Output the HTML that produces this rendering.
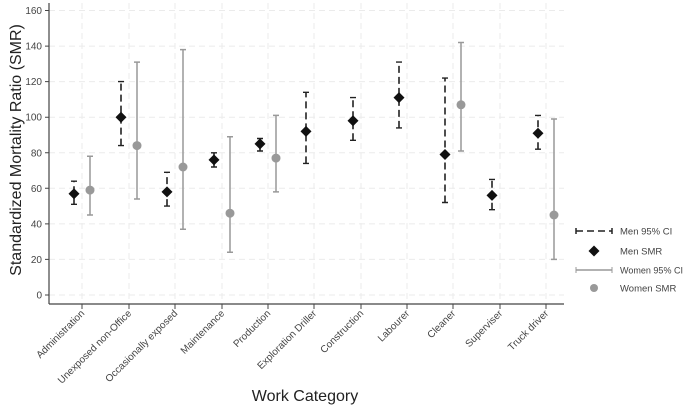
<!DOCTYPE html>
<html><head><meta charset="utf-8"><style>body{margin:0;background:#fff}svg{display:block}</style></head><body>
<svg width="685" height="408" xmlns="http://www.w3.org/2000/svg" font-family="Liberation Sans, sans-serif">
<rect width="685" height="408" fill="#fff"/>
<g stroke="#ebebeb" stroke-dasharray="6,4" stroke-width="1">
<line x1="49" x2="564" y1="295" y2="295"/><line x1="49" x2="564" y1="259.4" y2="259.4"/><line x1="49" x2="564" y1="223.9" y2="223.9"/><line x1="49" x2="564" y1="188.3" y2="188.3"/><line x1="49" x2="564" y1="152.8" y2="152.8"/><line x1="49" x2="564" y1="117.2" y2="117.2"/><line x1="49" x2="564" y1="81.6" y2="81.6"/><line x1="49" x2="564" y1="46.1" y2="46.1"/><line x1="49" x2="564" y1="10.5" y2="10.5"/>
<line x1="82" x2="82" y1="3" y2="304"/><line x1="129" x2="129" y1="3" y2="304"/><line x1="175" x2="175" y1="3" y2="304"/><line x1="222" x2="222" y1="3" y2="304"/><line x1="268" x2="268" y1="3" y2="304"/><line x1="314" x2="314" y1="3" y2="304"/><line x1="361" x2="361" y1="3" y2="304"/><line x1="407" x2="407" y1="3" y2="304"/><line x1="453" x2="453" y1="3" y2="304"/><line x1="500" x2="500" y1="3" y2="304"/><line x1="546" x2="546" y1="3" y2="304"/>
</g>
<g stroke="#999" stroke-width="1.5" fill="none">
<path d="M90,215V156.3M87,215h6M87,156.3h6"/>
<path d="M137,199V62.1M134,199h6M134,62.1h6"/>
<path d="M183,229.2V49.6M180,229.2h6M180,49.6h6"/>
<path d="M230,252.3V136.8M227,252.3h6M227,136.8h6"/>
<path d="M276,191.9V115.4M273,191.9h6M273,115.4h6"/>
<path d="M461,151V42.5M458,151h6M458,42.5h6"/>
<path d="M554,259.4V119M551,259.4h6M551,119h6"/>
</g>
<g fill="#999">
<circle cx="90" cy="190.1" r="4.5"/><circle cx="137" cy="145.6" r="4.5"/><circle cx="183" cy="167" r="4.5"/><circle cx="230" cy="213.2" r="4.5"/><circle cx="276" cy="158.1" r="4.5"/><circle cx="461" cy="104.8" r="4.5"/><circle cx="554" cy="215" r="4.5"/>
</g>
<g stroke="#222" stroke-width="1.6" stroke-dasharray="7,4" fill="none">
<path d="M74,204.3V181.2"/><path d="M121,145.6V81.6"/><path d="M167,206.1V172.3"/><path d="M214,167V152.8"/><path d="M260,151V138.5"/><path d="M306,163.4V92.3"/><path d="M353,140.3V97.6"/><path d="M399,127.9V62.1"/><path d="M445,202.5V78.1"/><path d="M492,209.7V179.4"/><path d="M538,149.2V115.4"/>
</g>
<g stroke="#222" stroke-width="1.4" fill="none">
<path d="M71,204.3h6M71,181.2h6M118,145.6h6M118,81.6h6M164,206.1h6M164,172.3h6M211,167h6M211,152.8h6M257,151h6M257,138.5h6M303,163.4h6M303,92.3h6M350,140.3h6M350,97.6h6M396,127.9h6M396,62.1h6M442,202.5h6M442,78.1h6M489,209.7h6M489,179.4h6M535,149.2h6M535,115.4h6"/>
</g>
<g fill="#111">
<path d="M74,188.2l5.5,5.5l-5.5,5.5l-5.5,-5.5z"/>
<path d="M121,111.7l5.5,5.5l-5.5,5.5l-5.5,-5.5z"/>
<path d="M167,186.4l5.5,5.5l-5.5,5.5l-5.5,-5.5z"/>
<path d="M214,154.4l5.5,5.5l-5.5,5.5l-5.5,-5.5z"/>
<path d="M260,138.4l5.5,5.5l-5.5,5.5l-5.5,-5.5z"/>
<path d="M306,125.9l5.5,5.5l-5.5,5.5l-5.5,-5.5z"/>
<path d="M353,115.3l5.5,5.5l-5.5,5.5l-5.5,-5.5z"/>
<path d="M399,92.1l5.5,5.5l-5.5,5.5l-5.5,-5.5z"/>
<path d="M445,149l5.5,5.5l-5.5,5.5l-5.5,-5.5z"/>
<path d="M492,189.9l5.5,5.5l-5.5,5.5l-5.5,-5.5z"/>
<path d="M538,127.7l5.5,5.5l-5.5,5.5l-5.5,-5.5z"/>
</g>
<line x1="49" y1="3" x2="49" y2="304" stroke="#444" stroke-width="1.2"/>
<line x1="49" y1="304" x2="564" y2="304" stroke="#444" stroke-width="1.2"/>
<g stroke="#444">
<path d="M45,295h4M45,259.4h4M45,223.9h4M45,188.3h4M45,152.8h4M45,117.2h4M45,81.6h4M45,46.1h4M45,10.5h4"/>
<path d="M82,304v5M129,304v5M175,304v5M222,304v5M268,304v5M314,304v5M361,304v5M407,304v5M453,304v5M500,304v5M546,304v5"/>
</g>
<g font-size="10" fill="#444" text-anchor="end">
<text x="42" y="298.5">0</text><text x="42" y="262.9">20</text><text x="42" y="227.4">40</text><text x="42" y="191.8">60</text><text x="42" y="156.3">80</text><text x="42" y="120.7">100</text><text x="42" y="85.1">120</text><text x="42" y="49.6">140</text><text x="42" y="14">160</text>
<text transform="translate(85,314) rotate(-45)">Administration</text>
<text transform="translate(132,314) rotate(-45)">Unexposed non-Office</text>
<text transform="translate(178,314) rotate(-45)">Occasionally exposed</text>
<text transform="translate(225,314) rotate(-45)">Maintenance</text>
<text transform="translate(271,314) rotate(-45)">Production</text>
<text transform="translate(317,314) rotate(-45)">Exploration Driller</text>
<text transform="translate(364,314) rotate(-45)">Construction</text>
<text transform="translate(410,314) rotate(-45)">Labourer</text>
<text transform="translate(456,314) rotate(-45)">Cleaner</text>
<text transform="translate(503,314) rotate(-45)">Superviser</text>
<text transform="translate(549,314) rotate(-45)">Truck driver</text>
</g>
<text transform="translate(21,150) rotate(-90)" text-anchor="middle" font-size="16" fill="#222">Standardized Mortality Ratio (SMR)</text>
<text x="305" y="401" text-anchor="middle" font-size="16" fill="#222">Work Category</text>
<g font-size="9.5" fill="#444">
<line x1="576" y1="231" x2="612" y2="231" stroke="#222" stroke-width="1.6" stroke-dasharray="7,4"/><line x1="576" y1="228" x2="576" y2="234" stroke="#222" stroke-width="1.5"/><line x1="612" y1="228" x2="612" y2="234" stroke="#222" stroke-width="1.5"/>
<text x="620" y="234.5">Men 95% CI</text>
<path d="M594,245.5 L599.5,251 L594,256.5 L588.5,251Z" fill="#111"/>
<text x="620" y="254.5">Men SMR</text>
<line x1="576" y1="270" x2="612" y2="270" stroke="#999" stroke-width="1.5"/><line x1="576" y1="267" x2="576" y2="273" stroke="#999"/><line x1="612" y1="267" x2="612" y2="273" stroke="#999"/>
<text x="620" y="273.5" textLength="63" lengthAdjust="spacingAndGlyphs">Women 95% CI</text>
<circle cx="594" cy="288" r="4" fill="#999"/>
<text x="620" y="291.5">Women SMR</text>
</g>
</svg>
</body></html>
